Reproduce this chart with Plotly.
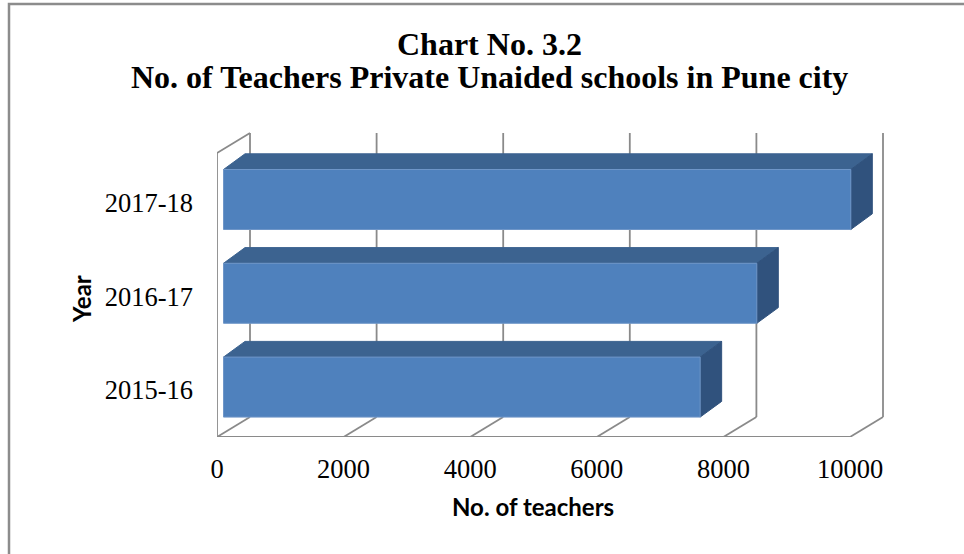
import plotly.graph_objects as go

# ---- data -------------------------------------------------------------
years = ["2015-16", "2016-17", "2017-18"]
teachers = [7530, 8425, 9910]
x_ticks = [0, 2000, 4000, 6000, 8000, 10000]
x_tick_labels = [str(t) for t in x_ticks]

title_line1 = "Chart No. 3.2"
title_line2 = "No. of Teachers Private Unaided schools in Pune city"
x_title = "No. of teachers"
y_title = "Year"

# ---- page geometry (pixels) -----------------------------------------
W, H = 964, 554
PLOT_L, PLOT_R = 217, 900
PLOT_T, PLOT_B = 100, 437
PX_PER_X = 633 / 10000      # pixels per teacher along the floor
PX_PER_Y = 93.8             # pixels per category band


def ux(px):
    """pixel length -> x data units"""
    return px / PX_PER_X


def uy(px):
    """pixel length -> y data units"""
    return px / PX_PER_Y


def paper_x(px):
    return (px - PLOT_L) / (PLOT_R - PLOT_L)


def paper_y(py):
    return (PLOT_B - py) / (PLOT_B - PLOT_T)


# oblique projection of the 3-D box
DEPTH_X, DEPTH_Y = ux(33), uy(20)
WALL_H = uy(284)
BAR_SHIFT_X, BAR_SHIFT_Y = ux(6.5), uy(3)
BAR_DEPTH_X, BAR_DEPTH_Y = ux(21.5), uy(15.7)
BAR_H = uy(60)

GRID = "#8a8a8a"
FRONT = "#4F81BD"
TOP = "#3C6390"
SIDE = "#30527D"
EDGE = "#6F96C8"
SERIF = "Liberation Serif"
SANS = "Lato"

fig = go.Figure()

# floor and walls
lx, ly = [], []
xmax = x_ticks[-1]
lx += [0, xmax, None]; ly += [0, 0, None]                       # floor front edge
for t in x_ticks:
    lx += [t, t + DEPTH_X, None]; ly += [0, DEPTH_Y, None]      # floor depth lines
    lx += [t + DEPTH_X, t + DEPTH_X, None]                      # back wall grid
    ly += [DEPTH_Y, DEPTH_Y + WALL_H, None]
lx += [0, 0, DEPTH_X, None]; ly += [0, WALL_H, DEPTH_Y + WALL_H, None]  # side wall
fig.add_trace(go.Scatter(x=lx, y=ly, mode="lines",
                         line=dict(color=GRID, width=1.8),
                         hoverinfo="skip", showlegend=False))

# 3-D bars: front, top and side faces
for i, (yr, v) in enumerate(zip(years, teachers)):
    yc = i + 0.5 + BAR_SHIFT_Y
    y0, y1 = yc - BAR_H / 2, yc + BAR_H / 2
    x0 = BAR_SHIFT_X
    x1 = x0 + v
    top = ([x0, x1, x1 + BAR_DEPTH_X, x0 + BAR_DEPTH_X, x0],
           [y1, y1, y1 + BAR_DEPTH_Y, y1 + BAR_DEPTH_Y, y1])
    side = ([x1, x1 + BAR_DEPTH_X, x1 + BAR_DEPTH_X, x1, x1],
            [y0, y0 + BAR_DEPTH_Y, y1 + BAR_DEPTH_Y, y1, y0])
    front = ([x0, x1, x1, x0, x0], [y0, y0, y1, y1, y0])
    for (px_, py_), fc, lc in ((top, TOP, TOP), (side, SIDE, SIDE), (front, FRONT, EDGE)):
        fig.add_trace(go.Scatter(x=px_, y=py_, mode="lines", fill="toself",
                                 fillcolor=fc, line=dict(color=lc, width=1),
                                 name=yr, hovertemplate=f"{yr}: {v}<extra></extra>",
                                 showlegend=False))

fig.update_xaxes(range=[0, ux(PLOT_R - PLOT_L)], tickvals=x_ticks,
                 ticktext=x_tick_labels,
                 showgrid=False, zeroline=False, showline=False, ticks="",
                 ticklabelstandoff=13,
                 tickfont=dict(family=SERIF, size=26.5, color="black"))
fig.update_yaxes(range=[0, uy(PLOT_B - PLOT_T)],
                 tickvals=[i + 0.5 for i in range(len(years))], ticktext=years,
                 showgrid=False, zeroline=False, showline=False, ticks="",
                 ticklabelstandoff=23,
                 tickfont=dict(family=SERIF, size=26.5, color="black"))

annotations = [
    dict(text=f"<b>{title_line1}</b>", x=paper_x(489), y=paper_y(44),
         font=dict(family=SERIF, size=32, color="black")),
    dict(text=f"<b>{title_line2}</b>", x=paper_x(489), y=paper_y(77),
         font=dict(family=SERIF, size=32, color="black")),
    dict(text=f"<b>{x_title}</b>", x=paper_x(533), y=paper_y(506),
         font=dict(family=SANS, size=24, color="black")),
    dict(text=f"<b>{y_title}</b>", x=paper_x(81), y=paper_y(299), textangle=-90,
         font=dict(family=SANS, size=24, color="black")),
]
for a in annotations:
    a.update(xref="paper", yref="paper", showarrow=False,
             xanchor="center", yanchor="middle")

fig.update_layout(
    width=W, height=H,
    margin=dict(l=PLOT_L, r=W - PLOT_R, t=PLOT_T, b=H - PLOT_B, autoexpand=False),
    paper_bgcolor="white", plot_bgcolor="white",
    annotations=annotations,
    shapes=[dict(type="rect", xref="paper", yref="paper",
                 x0=paper_x(9), y0=paper_y(H + 20), x1=paper_x(W + 20), y1=paper_y(4),
                 line=dict(color="#8c8c8c", width=2.5), fillcolor="rgba(0,0,0,0)",
                 layer="below")],
    showlegend=False,
)

fig.write_html("out.html")
